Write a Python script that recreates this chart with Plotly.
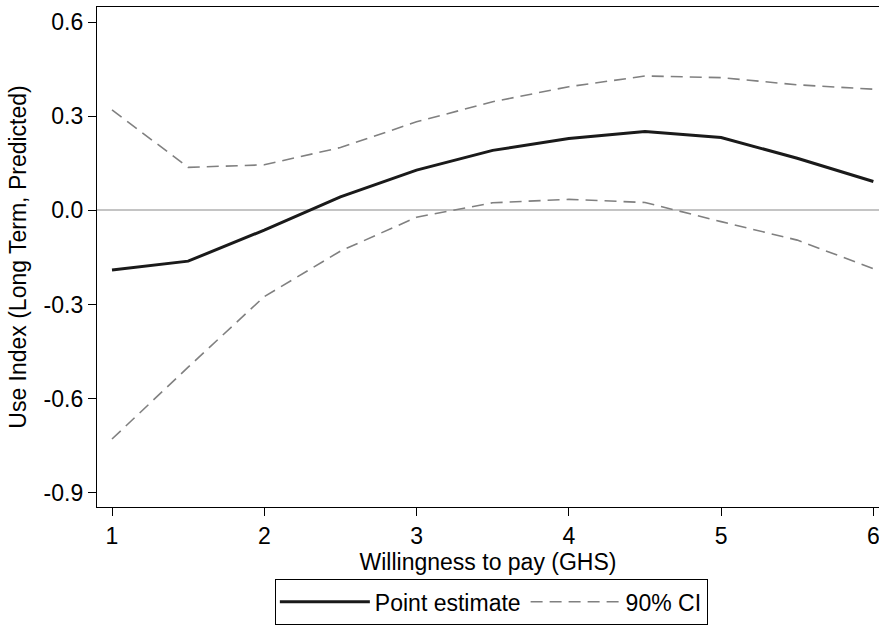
import plotly.graph_objects as go

# Data
wtp = [1.0, 1.5, 2.0, 2.5, 3.0, 3.5, 4.0, 4.5, 5.0, 5.5, 6.0]
point_est = [-0.190, -0.162, -0.063, 0.043, 0.128, 0.191, 0.229, 0.251, 0.232, 0.166, 0.092]
ci_upper = [0.320, 0.137, 0.145, 0.200, 0.282, 0.346, 0.394, 0.428, 0.423, 0.400, 0.386]
ci_lower = [-0.729, -0.500, -0.275, -0.130, -0.022, 0.024, 0.035, 0.025, -0.036, -0.095, -0.186]

x_ticks = [1, 2, 3, 4, 5, 6]
y_ticks = [0.6, 0.3, 0.0, -0.3, -0.6, -0.9]
y_tick_labels = ["0.6", "0.3", "0.0", "-0.3", "-0.6", "-0.9"]

FONT = "Liberation Sans, Arial, sans-serif"
FS = 23
dash_style = "12px,7px"

fig = go.Figure()
fig.add_trace(go.Scatter(
    x=wtp, y=point_est, mode="lines", name="Point estimate",
    line=dict(color="#1a1a1a", width=3),
))
fig.add_trace(go.Scatter(
    x=wtp, y=ci_upper, mode="lines", name="90% CI", legendgroup="ci",
    line=dict(color="#808080", width=1.6, dash=dash_style),
))
fig.add_trace(go.Scatter(
    x=wtp, y=ci_lower, mode="lines", name="90% CI", legendgroup="ci",
    showlegend=False,
    line=dict(color="#808080", width=1.6, dash=dash_style),
))

fig.update_layout(
    width=879, height=625,
    margin=dict(l=97, r=0, t=7, b=118, autoexpand=False),
    paper_bgcolor="white", plot_bgcolor="white",
    font=dict(family=FONT, size=FS, color="black"),
    showlegend=True,
    legend=dict(
        orientation="h",
        xref="container", yref="container",
        x=0.559, xanchor="center",
        y=1 - 579 / 625, yanchor="top",
        bordercolor="black", borderwidth=1.3,
        bgcolor="white",
        font=dict(family=FONT, size=FS, color="black"),
        itemwidth=90,
        entrywidth=0,
    ),
    xaxis=dict(
        range=[0.9015, 6.037], automargin=False,
        tickmode="array", tickvals=x_ticks,
        ticks="outside", ticklen=8, tickwidth=1.2, tickcolor="black",
        ticklabeloverflow="allow",
        showline=True, linecolor="black", linewidth=1.3, mirror=True,
        showgrid=False, zeroline=False,
        title=dict(text="Willingness to pay (GHS)", standoff=1,
                   font=dict(family=FONT, size=FS)),
        tickfont=dict(family=FONT, size=FS),
    ),
    yaxis=dict(
        range=[-0.9456, 0.648], automargin=False,
        tickmode="array", tickvals=y_ticks, ticktext=y_tick_labels,
        ticks="outside", ticklen=8, tickwidth=1.2, tickcolor="black",
        showline=True, linecolor="black", linewidth=1.3, mirror=False,
        showgrid=False,
        zeroline=True, zerolinecolor="#c4c4c4", zerolinewidth=2,
        title=dict(text="Use Index (Long Term, Predicted)", standoff=10,
                   font=dict(family=FONT, size=FS)),
        tickfont=dict(family=FONT, size=FS),
    ),
)

fig.write_html(
    "out.html",
    config={"displayModeBar": False},
    post_script="document.body.style.margin='0';document.body.style.overflow='hidden';",
)
